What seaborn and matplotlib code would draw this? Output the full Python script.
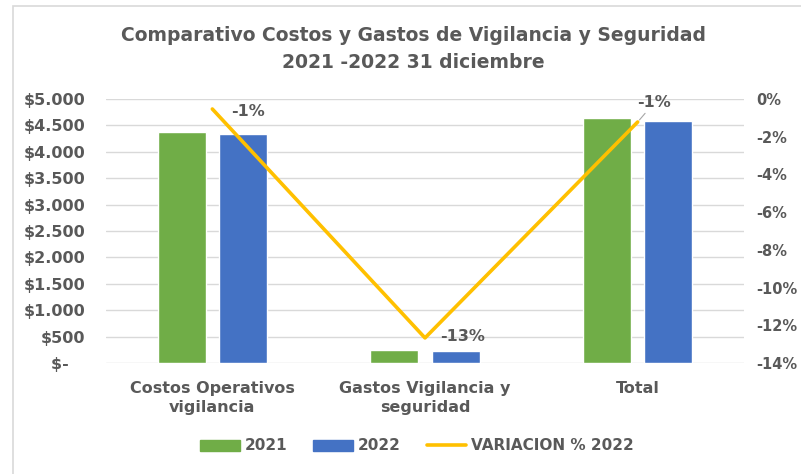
import numpy as np
import pandas as pd
import matplotlib
matplotlib.use("Agg")
import matplotlib.pyplot as plt
import matplotlib.ticker as mticker
from matplotlib.patches import Patch, Rectangle
from matplotlib.lines import Line2D
import seaborn as sns

categories = ["Costos Operativos\nvigilancia", "Gastos Vigilancia y\nseguridad", "Total"]
values_2021 = [4369, 246, 4640]
values_2022 = [4343, 222, 4583]
variacion_2022 = [-0.53, -12.67, -1.22]
years = ["2021", "2022"]
left_ticks = [0, 500, 1000, 1500, 2000, 2500, 3000, 3500, 4000, 4500, 5000]
right_ticks = [0, -2, -4, -6, -8, -10, -12, -14]
title = "Comparativo Costos y Gastos de Vigilancia y Seguridad\n2021 -2022 31 diciembre"

GREEN = "#70AD47"
BLUE = "#4472C4"
GOLD = "#FFC000"
TXT = "#595959"
GRID = "#D9D9D9"

sns.set_theme(style="white")
plt.rcParams["font.family"] = ["DejaVu Sans"]

df = pd.DataFrame({
    "cat": categories * 2,
    "year": [years[0]] * 3 + [years[1]] * 3,
    "value": values_2021 + values_2022,
})

fig = plt.figure(figsize=(8.01, 4.74), dpi=100)
ax = fig.add_axes([106 / 801, 1 - 363 / 474, (744 - 106) / 801, (363 - 99) / 474])

sns.barplot(data=df, x="cat", y="value", hue="year", palette=[GREEN, BLUE],
            width=0.574, gap=0.214, ax=ax, legend=False, saturation=1)

ax.set_ylim(0, 5000)
ax.set_yticks(left_ticks)
ax.yaxis.set_major_formatter(mticker.FuncFormatter(
    lambda v, p: "$-   " if v == 0 else "$" + f"{int(v):,}".replace(",", ".")))
ax.grid(axis="y", color=GRID, linewidth=1)
ax.set_axisbelow(True)
for s in ax.spines.values():
    s.set_visible(False)
ax.set_xlabel("")
ax.set_ylabel("")
ax.tick_params(axis="both", length=0, labelsize=11.5, labelcolor=TXT)
for lab in ax.get_xticklabels() + ax.get_yticklabels():
    lab.set_fontweight("bold")
for lab in ax.get_xticklabels():
    lab.set_linespacing(1.3)
ax.tick_params(axis="x", pad=13)
ax.tick_params(axis="y", pad=15)

ax2 = ax.twinx()
sns.lineplot(x=np.arange(len(categories)), y=variacion_2022, ax=ax2,
             color=GOLD, linewidth=2.6, legend=False)
ax2.set_ylim(-14, 0)
ax2.set_yticks(right_ticks)
ax2.yaxis.set_major_formatter(mticker.FuncFormatter(lambda v, p: f"{int(round(v))}%"))
for s in ax2.spines.values():
    s.set_visible(False)
ax2.set_ylabel("")
ax2.tick_params(axis="y", length=0, labelsize=10.5, labelcolor=TXT, pad=9)
for lab in ax2.get_yticklabels():
    lab.set_fontweight("bold")
ax.set_xlim(-0.5, 2.5)

offsets = [(26, -2), (27, 1), (12, 14)]
for i, v in enumerate(variacion_2022):
    arrow = dict(arrowstyle="-", color="#A6A6A6", lw=0.8, shrinkA=0, shrinkB=2) if i == 2 else None
    ax2.annotate(f"{v:.0f}%", xy=(i, v), xytext=offsets[i], textcoords="offset points",
                 ha="center", va="center", fontsize=11.5, fontweight="bold", color=TXT,
                 arrowprops=arrow)

fig.text(413 / 801, 1 - 49 / 474, title, ha="center", va="center",
         fontsize=13.5, fontweight="bold", color=TXT, linespacing=1.55)

handles = [Patch(color=GREEN, label=years[0]), Patch(color=BLUE, label=years[1]),
           Line2D([0], [0], color=GOLD, linewidth=2.6, label="VARIACION % 2022")]
leg = fig.legend(handles=handles, loc="center", bbox_to_anchor=(417 / 801, 1 - 446 / 474),
                 ncol=3, frameon=False, fontsize=11, handlelength=2.6, handleheight=0.75,
                 handletextpad=0.3, columnspacing=1.7)
for t in leg.get_texts():
    t.set_color(TXT)
    t.set_fontweight("bold")

fig.patches.append(Rectangle((13 / 801, -0.5), 2, 0.5 + 1 - 6 / 474, transform=fig.transFigure,
                             fill=False, edgecolor=GRID, linewidth=1.2))

fig.savefig("out.png", dpi=100)
